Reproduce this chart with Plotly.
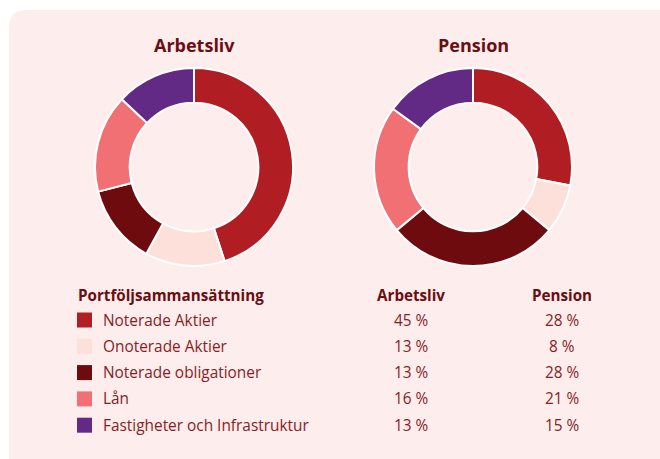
import plotly.graph_objects as go

# Portfolio composition data
categories = ["Noterade Aktier", "Onoterade Aktier", "Noterade obligationer",
              "Lån", "Fastigheter och Infrastruktur"]
arbetsliv = [45, 13, 13, 16, 13]
pension = [28, 8, 28, 21, 15]
colors = ["#B01E24", "#FCE0D9", "#6D0B0F", "#F07074", "#622A85"]
titles = ["Arbetsliv", "Pension"]

W, H = 660, 459
BG = "#FDEDED"
DARK = "#6A0E12"
TEXT = "#8A1C24"
FONT = "Open Sans"


def px(x):
    return x / W


def py(y):
    return 1 - y / H


fig = go.Figure()

# donut centers / radius in pixels
donuts = [(194, 167, arbetsliv), (473, 167, pension)]
R = 99
for (cx, cy, vals), name in zip(donuts, titles):
    fig.add_trace(go.Pie(
        labels=categories, values=vals, name=name,
        hole=0.65, sort=False, direction="clockwise", rotation=0,
        marker=dict(colors=colors, line=dict(color="white", width=2)),
        textinfo="none", hoverinfo="label+percent",
        domain=dict(x=[px(cx - R), px(cx + R)], y=[py(cy + R), py(cy - R)]),
        showlegend=False,
    ))

shapes = []
# rounded card background
x0, y0, x1, y1, r = 9, 10, 680, 480, 18
path = (f"M {x0+r},{y0} L {x1-r},{y0} Q {x1},{y0} {x1},{y0+r} "
        f"L {x1},{y1-r} Q {x1},{y1} {x1-r},{y1} L {x0+r},{y1} "
        f"Q {x0},{y1} {x0},{y1-r} L {x0},{y0+r} Q {x0},{y0} {x0+r},{y0} Z")
shapes.append(dict(type="path", path=path, xref="x", yref="y",
                   fillcolor=BG, line=dict(width=0), layer="below"))

annotations = []
# donut titles
for (cx, cy, _), name in zip(donuts, titles):
    annotations.append(dict(x=cx, y=45, text=f"<b>{name}</b>", showarrow=False,
                            xref="x", yref="y", xanchor="center", yanchor="middle",
                            font=dict(family=FONT, size=18, color=DARK)))

# table header
header_y = 295
annotations.append(dict(x=76, y=header_y, text="<b>Portföljsammansättning</b>",
                        showarrow=False, xref="x", yref="y", xanchor="left",
                        yanchor="middle", font=dict(family=FONT, size=15.2, color=DARK)))
col_x = [411, 562]
for cx, name in zip(col_x, titles):
    annotations.append(dict(x=cx, y=header_y, text=f"<b>{name}</b>", showarrow=False,
                            xref="x", yref="y", xanchor="center", yanchor="middle",
                            font=dict(family=FONT, size=15.2, color=DARK)))

# table rows
row_y0, row_dy = 320, 26.3
for i, (cat, a, p, c) in enumerate(zip(categories, arbetsliv, pension, colors)):
    yy = row_y0 + i * row_dy
    shapes.append(dict(type="rect", xref="x", yref="y", x0=77, x1=92,
                       y0=yy - 7.5, y1=yy + 7.5, fillcolor=c, line=dict(width=0)))
    annotations.append(dict(x=101, y=yy, text=cat, showarrow=False, xref="x", yref="y",
                            xanchor="left", yanchor="middle",
                            font=dict(family=FONT, size=15.4, color=TEXT)))
    for cx, v in zip(col_x, (a, p)):
        annotations.append(dict(x=cx, y=yy, text=f"{v} %", showarrow=False,
                                xref="x", yref="y", xanchor="center", yanchor="middle",
                                font=dict(family=FONT, size=15.4, color=TEXT)))

fig.update_layout(
    width=W, height=H, margin=dict(l=0, r=0, t=0, b=0),
    paper_bgcolor="white", plot_bgcolor="rgba(0,0,0,0)",
    xaxis=dict(range=[0, W], visible=False, fixedrange=True),
    yaxis=dict(range=[H, 0], visible=False, fixedrange=True),
    shapes=shapes, annotations=annotations,
)

fig.write_html("out.html")
